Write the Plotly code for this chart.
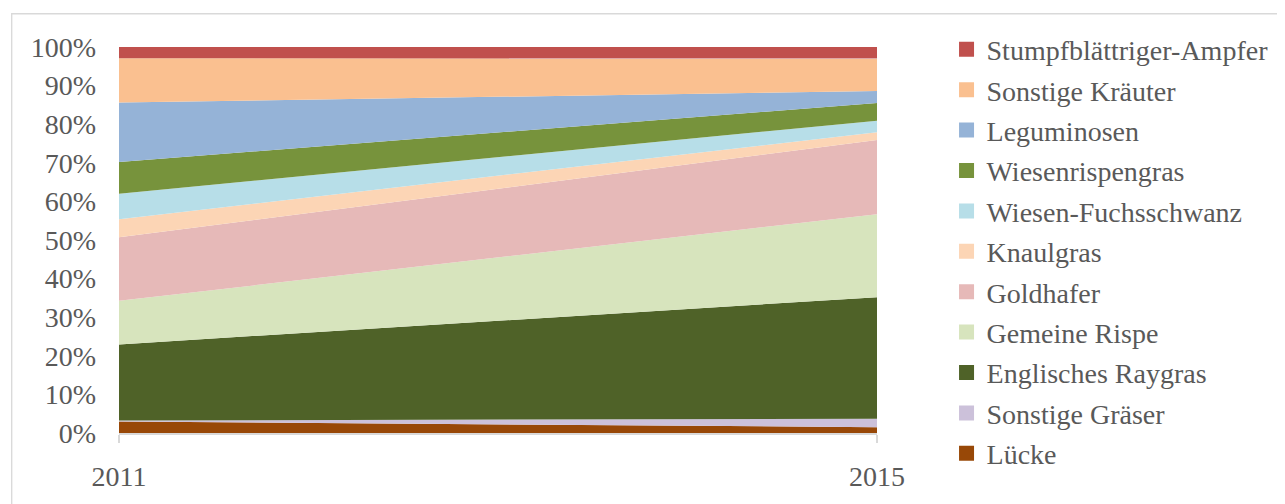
import plotly.graph_objects as go

years = [2011, 2015]
year_labels = ["2011", "2015"]

# stacking order bottom -> top
series_names = [
    "Lücke",
    "Sonstige Gräser",
    "Englisches Raygras",
    "Gemeine Rispe",
    "Goldhafer",
    "Knaulgras",
    "Wiesen-Fuchsschwanz",
    "Wiesenrispengras",
    "Leguminosen",
    "Sonstige Kräuter",
    "Stumpfblättriger-Ampfer",
]
luecke = [3.0, 1.5]
sonstige_graeser = [0.25, 2.2]
englisches_raygras = [19.7, 31.5]
gemeine_rispe = [11.3, 21.5]
goldhafer = [16.45, 19.2]
knaulgras = [4.7, 2.0]
wiesen_fuchsschwanz = [6.6, 3.0]
wiesenrispengras = [8.2, 4.6]
leguminosen = [15.4, 3.1]
sonstige_kraeuter = [11.5, 8.4]
stumpf_ampfer = [2.9, 3.0]

series_values = [
    luecke, sonstige_graeser, englisches_raygras, gemeine_rispe, goldhafer,
    knaulgras, wiesen_fuchsschwanz, wiesenrispengras, leguminosen,
    sonstige_kraeuter, stumpf_ampfer,
]
colors = [
    "#984807", "#CCC1DA", "#4F6228", "#D7E4BD", "#E6B9B8",
    "#FCD5B5", "#B7DEE8", "#77933C", "#95B3D7", "#FAC090", "#C0504D",
]

y_ticks = [0, 10, 20, 30, 40, 50, 60, 70, 80, 90, 100]
y_tick_labels = ["0%", "10%", "20%", "30%", "40%", "50%", "60%", "70%", "80%", "90%", "100%"]

FONT = "Liberation Serif, Times New Roman, serif"
GRAY = "#595959"
FS = 28

fig = go.Figure()
for name, vals, col in zip(series_names, series_values, colors):
    fig.add_trace(go.Scatter(
        x=years, y=vals, name=name, stackgroup="one", mode="none",
        fillcolor=col, showlegend=False, hoverinfo="x+y+name",
    ))

# legend entries (square markers), top to bottom as in the reference
for i, (name, col) in enumerate(reversed(list(zip(series_names, colors)))):
    fig.add_trace(go.Scatter(
        x=[None], y=[None], mode="markers", name=name,
        marker=dict(symbol="square", size=15, color=col),
        legendgroup=f"g{i}", showlegend=True,
    ))

OFF = 8  # page body margin
W, H = 1285 - OFF, 504 - OFF
L, R, T, B = 119 - OFF, 882 - OFF, 46.7 - OFF, 438 - OFF
pw, ph = R - L, B - T

def px2paper_x(x):
    return (x - OFF - L) / pw

def px2paper_y(y):
    return (B - (y - OFF)) / ph

fig.add_shape(type="rect", xref="paper", yref="paper",
              x0=px2paper_x(11), x1=px2paper_x(1320),
              y0=px2paper_y(530), y1=px2paper_y(13),
              line=dict(color="#D9D9D9", width=1.3), fillcolor="rgba(0,0,0,0)",
              layer="below")

fig.update_layout(
    width=W, height=H,
    margin=dict(l=L, r=W - R, t=T, b=H - B),
    paper_bgcolor="white", plot_bgcolor="white",
    font=dict(family=FONT, size=FS, color=GRAY),
    xaxis=dict(
        range=[2011, 2015], tickvals=years, ticktext=year_labels,
        showgrid=False, zeroline=False, showline=True,
        linecolor="#D9D9D9", linewidth=1.5,
        ticks="outside", ticklen=8, tickcolor="#D9D9D9", tickwidth=1.5,
        ticklabelstandoff=10,
        tickfont=dict(family=FONT, size=FS, color=GRAY),
    ),
    yaxis=dict(
        range=[0, 100], tickvals=y_ticks, ticktext=y_tick_labels,
        showgrid=False, zeroline=False, showline=False,
        ticks="", ticklabelstandoff=22,
        tickfont=dict(family=FONT, size=FS, color=GRAY),
    ),
    legend=dict(
        x=px2paper_x(952), y=px2paper_y(24), xanchor="left", yanchor="top",
        font=dict(family=FONT, size=FS, color=GRAY),
        tracegroupgap=1, bgcolor="rgba(0,0,0,0)",
        maxheight=1000,
    ),
    showlegend=True,
)

fig.write_html("out.html")
